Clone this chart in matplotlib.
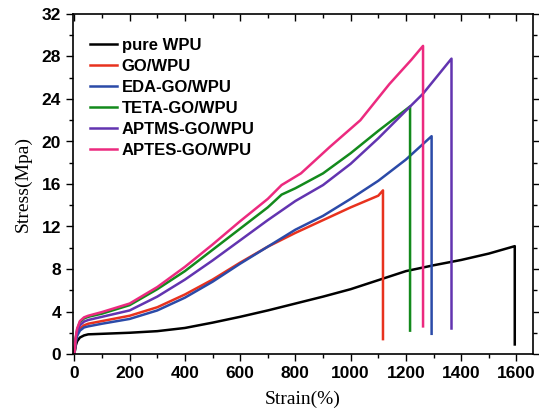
import matplotlib.pyplot as plt
from matplotlib.ticker import MultipleLocator

# Stress-strain curves (strain in %, stress in MPa), last point = break drop
pure_x = [0, 5, 10, 20, 35, 50, 100, 200, 300, 400, 500, 600, 700, 800, 900, 1000, 1100, 1200, 1300, 1400, 1500, 1594, 1594]
pure_y = [0, 0.8, 1.2, 1.55, 1.75, 1.85, 1.9, 2.0, 2.15, 2.45, 2.95, 3.5, 4.1, 4.75, 5.4, 6.1, 6.95, 7.8, 8.35, 8.85, 9.45, 10.15, 0.9]

go_x = [0, 5, 10, 20, 35, 50, 100, 200, 300, 400, 500, 600, 700, 800, 900, 1000, 1100, 1117, 1117]
go_y = [0, 1.3, 1.9, 2.4, 2.7, 2.85, 3.1, 3.6, 4.4, 5.6, 7.0, 8.6, 10.1, 11.4, 12.6, 13.8, 14.9, 15.4, 1.4]

eda_x = [0, 5, 10, 20, 35, 50, 100, 200, 300, 400, 500, 600, 700, 800, 900, 1000, 1100, 1200, 1293, 1293]
eda_y = [0, 1.1, 1.7, 2.2, 2.5, 2.6, 2.85, 3.3, 4.1, 5.3, 6.8, 8.5, 10.1, 11.7, 13.0, 14.6, 16.3, 18.3, 20.5, 1.9]

teta_x = [0, 5, 10, 20, 35, 50, 100, 200, 300, 400, 500, 600, 700, 750, 800, 900, 1000, 1100, 1215, 1215]
teta_y = [0, 1.5, 2.3, 3.0, 3.35, 3.5, 3.8, 4.6, 6.1, 7.8, 9.8, 11.8, 13.8, 15.0, 15.6, 17.0, 18.9, 21.0, 23.3, 2.2]

aptms_x = [0, 5, 10, 20, 35, 50, 100, 200, 300, 400, 500, 600, 700, 800, 900, 1000, 1100, 1200, 1262, 1365, 1365]
aptms_y = [0, 1.4, 2.1, 2.7, 3.05, 3.2, 3.5, 4.1, 5.4, 7.0, 8.8, 10.7, 12.6, 14.4, 15.9, 17.9, 20.3, 22.9, 24.5, 27.8, 2.4]

aptes_x = [0, 5, 10, 20, 35, 50, 100, 200, 300, 400, 500, 600, 700, 750, 820, 925, 1035, 1140, 1220, 1262, 1262]
aptes_y = [0, 1.6, 2.4, 3.1, 3.45, 3.6, 3.95, 4.75, 6.3, 8.2, 10.3, 12.5, 14.6, 15.9, 17.0, 19.5, 22.0, 25.4, 27.7, 29.0, 2.6]

labels = ["pure WPU", "GO/WPU", "EDA-GO/WPU", "TETA-GO/WPU", "APTMS-GO/WPU", "APTES-GO/WPU"]
colors = ["#000000", "#e8321e", "#2b4aa8", "#138a1c", "#6234b0", "#ec2a7f"]
series = [(pure_x, pure_y), (go_x, go_y), (eda_x, eda_y),
          (teta_x, teta_y), (aptms_x, aptms_y), (aptes_x, aptes_y)]

fig = plt.figure(figsize=(5.39, 4.15), dpi=100)
ax = fig.add_axes([73/539, 1-354/415, 460/539, 340/415])

for (x, y), c, lab in zip(series, colors, labels):
    ax.plot(x, y, color=c, lw=1.8, label=lab)

ax.set_xlim(-5, 1660)
ax.set_ylim(0, 32)
ax.xaxis.set_major_locator(MultipleLocator(200))
ax.xaxis.set_minor_locator(MultipleLocator(100))
ax.yaxis.set_major_locator(MultipleLocator(4))
ax.yaxis.set_minor_locator(MultipleLocator(2))

ax.tick_params(which="both", direction="out", width=1, labelsize=12.5,
               top=True, right=True)
ax.tick_params(which="major", length=5)
ax.tick_params(which="minor", length=3)
for t in ax.get_xticklabels() + ax.get_yticklabels():
    t.set_fontfamily("Liberation Sans")
    t.set_fontweight("bold")
for sp in ax.spines.values():
    sp.set_linewidth(1.2)

# top/right ticks point inward
for tl in ax.xaxis.get_ticklines(minor=False)[1::2] + ax.xaxis.get_ticklines(minor=True)[1::2]:
    tl.set_marker(3)
for tl in ax.yaxis.get_ticklines(minor=False)[1::2] + ax.yaxis.get_ticklines(minor=True)[1::2]:
    tl.set_marker(1)

ax.set_xlabel("Strain(%)", fontfamily="Liberation Serif", fontsize=14, labelpad=7)
ax.set_ylabel("Stress(Mpa)", fontfamily="Liberation Serif", fontsize=14, labelpad=7)

ax.legend(loc="upper left", bbox_to_anchor=(0.037, 0.93), frameon=False,
          prop={"family": "Liberation Sans", "weight": "bold", "size": 12},
          handlelength=1.6, handletextpad=0.3, labelspacing=0.36,
          borderpad=0, borderaxespad=0)

fig.savefig("out.png", dpi=100)
